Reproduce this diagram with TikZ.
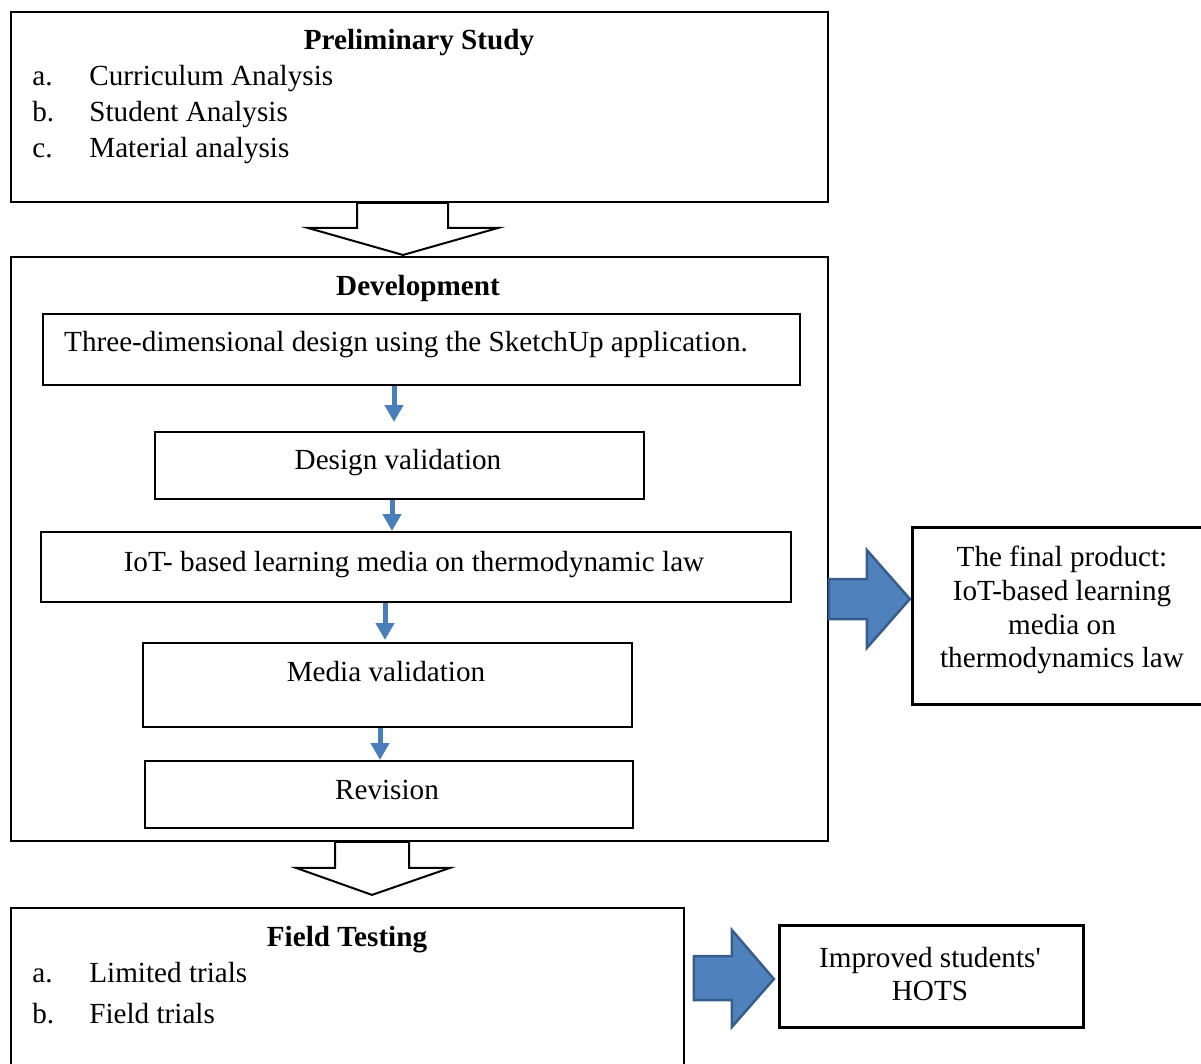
\documentclass[tikz,border=0pt]{standalone}
\usepackage{fontspec}
\setmainfont{Liberation Serif}
\newfontfamily\plainserif{Liberation Serif}
\usetikzlibrary{arrows.meta}
\definecolor{flowblue}{HTML}{4A7EBB}
\definecolor{boxblue}{HTML}{4F81BD}
\definecolor{edgeblue}{HTML}{385D8A}

\begin{document}
\begin{tikzpicture}[x=0.02cm, y=-0.02cm,
	every node/.style={font=\fontsize{16.6}{19.3}\selectfont},
	stage/.style={draw, line width=0.04cm, anchor=north west, inner sep=0pt},
	outcome/.style={stage, line width=0.06cm},
	heading/.style={anchor=base, font=\fontsize{16.6}{19.3}\selectfont\bfseries},
	item/.style={anchor=base west, inner sep=0pt},
	flow/.style={draw=flowblue, line width=0.1cm, -{Triangle[width=0.36cm,length=0.34cm]}},
	hollow/.style={draw, fill=white, line width=0.04cm},
	bigarrow/.style={fill=boxblue, draw=edgeblue, line width=0.05cm}]
	\useasboundingbox (0,0) rectangle (1201,1063);
	\clip (0,0) rectangle (1201,1063);
	% stages
	\node[stage, minimum width=16.34cm, minimum height=3.8cm] (prelim) at (10,11) {};
	\node[stage, minimum width=16.34cm, minimum height=11.68cm] (dev) at (10,256) {};
	\node[stage, minimum width=13.46cm, minimum height=3.4cm] (field) at (10,907) {};
	\node[stage, minimum width=15.14cm, minimum height=1.42cm] (sketch) at (42,313) {};
	\node[stage, minimum width=9.78cm, minimum height=1.34cm] (design) at (154,431) {};
	\node[stage, minimum width=15cm, minimum height=1.4cm] (iot) at (40,531) {};
	\node[stage, minimum width=9.78cm, minimum height=1.68cm] (media) at (142,642) {};
	\node[stage, minimum width=9.76cm, minimum height=1.34cm] (revision) at (144,760) {};
	\node[outcome, minimum width=6.2cm, minimum height=3.54cm] (prod) at (911,526) {};
	\node[outcome, minimum width=6.08cm, minimum height=2.04cm] (hots) at (778,924) {};
	% texts
	\node[heading] (prelimtitle) at (419,49) {Preliminary Study};
	\node[item] (pa) at (32,85) {a.};
	\node[item] (pat) at (89,85) {Curriculum Analysis};
	\node[item] (pb) at (32,121) {b.};
	\node[item] (pbt) at (89,121) {Student Analysis};
	\node[item] (pc) at (32,157) {c.};
	\node[item] (pct) at (89,157) {Material analysis};
	\node[heading] (devtitle) at (418,295) {Development};
	\node[anchor=base] (sketchtext) at (406,351) {Three-dimensional design using the SketchUp application.};
	\node[anchor=base] (designtext) at (398,469) {Design validation};
	\node[anchor=base] (iottext) at (414,571) {IoT- based learning media on thermodynamic law};
	\node[anchor=base] (mediatext) at (386,681) {Media validation};
	\node[anchor=base] (revisiontext) at (387,799) {Revision};
	\node[heading] (fieldtitle) at (347,946) {Field Testing};
	\node[item] (fa) at (32,982) {a.};
	\node[item] (fat) at (89,982) {Limited trials};
	\node[item] (fb) at (32,1023) {b.};
	\node[item] (fbt) at (89,1023) {Field trials};
	\node[align=center] (prodtext) at (1062,610) {The final product:\\IoT-based learning\\media on\\thermodynamics law};
	\node[align=center] (hotstext) at (930,974) {Improved students{\plainserif'}\\HOTS};
	% arrows
	\draw[hollow] (prelim.south -| 357,0) -- ++(0,25) -- ++(-49,0) -- ++(95,27) -- ++(95,-27) -- ++(-50,0) -- ++(0,-25) -- cycle;
	\draw[hollow] (dev.south -| 335,0) -- ++(0,26) -- ++(-39,0) -- ++(76,27) -- ++(78,-27) -- ++(-41,0) -- ++(0,-26) -- cycle;
	\draw[flow, shorten >=0.18cm] (sketch.south -| 394,0) -- (design.north -| 394,0);
	\draw[flow] (design.south -| 392,0) -- (iot.north -| 392,0);
	\draw[flow] (iot.south -| 385,0) -- ([yshift=0.04cm]media.north -| 385,0);
	\draw[flow] (media.south -| 380,0) -- (revision.north -| 380,0);
	\draw[bigarrow] (dev.east |- 0,599) ++(0,-20) -- ++(38,0) -- ++(0,-29) -- ++(43,49) -- ++(-43,49) -- ++(0,-29) -- ++(-38,0) -- cycle;
	\draw[bigarrow] (field.east |- 0,978) ++(9,-22) -- ++(38,0) -- ++(0,-26) -- ++(42,49) -- ++(-42,48) -- ++(0,-27) -- ++(-38,0) -- cycle;
\end{tikzpicture}
\end{document}
